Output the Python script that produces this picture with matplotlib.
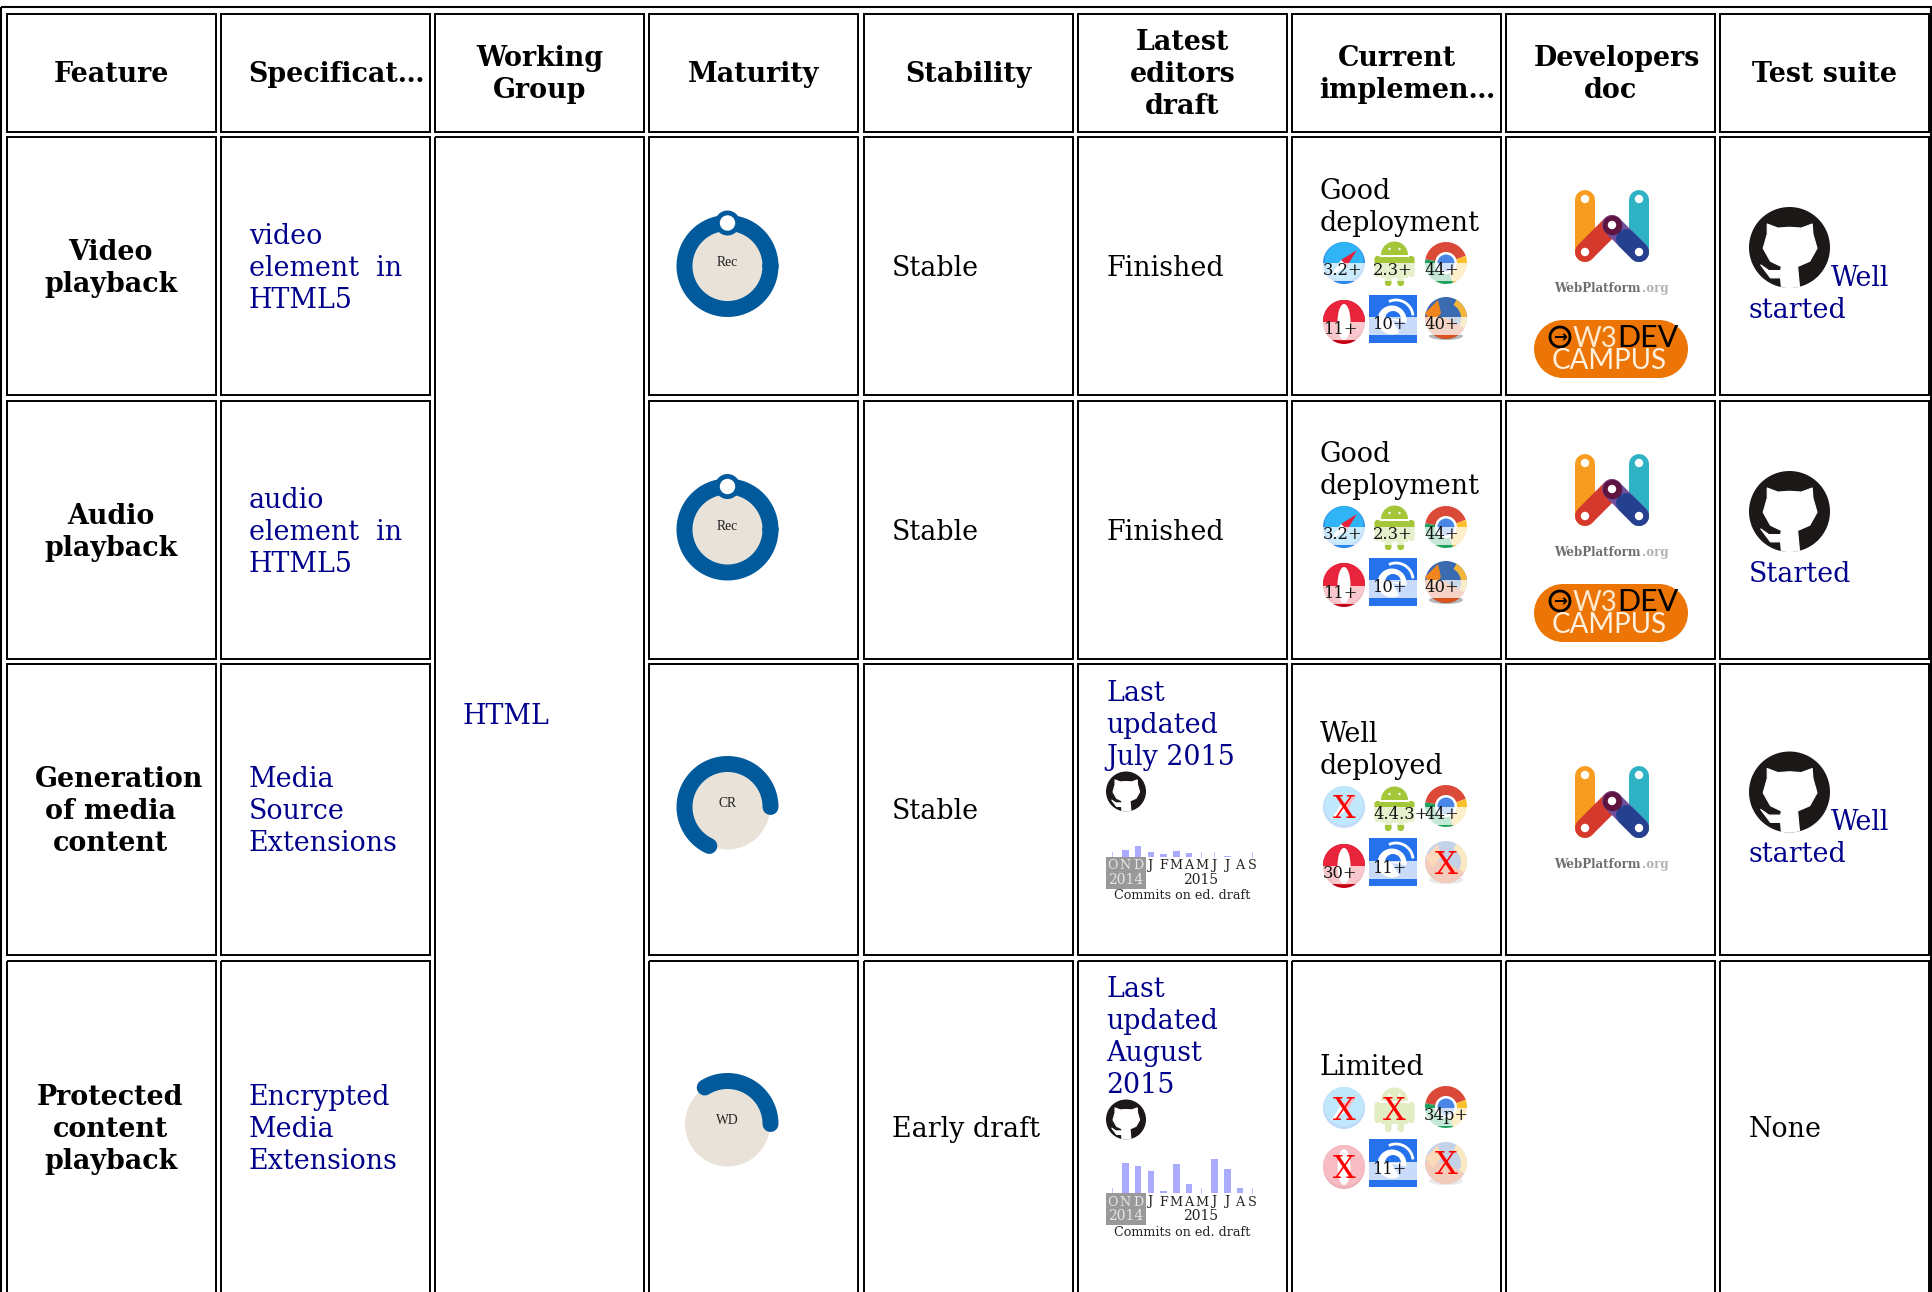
import numpy as np
import matplotlib
matplotlib.use('Agg')
import matplotlib.pyplot as plt
from matplotlib.patches import Rectangle, Circle, Ellipse, Wedge, Polygon, FancyBboxPatch

# Table content
headers = [['Feature'], ['Specificat…'], ['Working', 'Group'], ['Maturity'], ['Stability'],
           ['Latest', 'editors', 'draft'], ['Current', 'implemen…'], ['Developers', 'doc'], ['Test suite']]
features = [['Video', 'playback'], ['Audio', 'playback'], ['Generation', 'of media', 'content'],
            ['Protected', 'content', 'playback']]
specs = [['video', 'element  in', 'HTML5'], ['audio', 'element  in', 'HTML5'],
         ['Media', 'Source', 'Extensions'], ['Encrypted', 'Media', 'Extensions']]
group = 'HTML'
maturity = ['Rec', 'Rec', 'CR', 'WD']
maturity_arc = [360, 360, 245, 122]  # degrees of the progress ring
stability = ['Stable', 'Stable', 'Stable', 'Early draft']
drafts = ['Finished', 'Finished', ['Last', 'updated', 'July 2015'], ['Last', 'updated', 'August', '2015']]
deployment = [['Good', 'deployment'], ['Good', 'deployment'], ['Well', 'deployed'], ['Limited']]

# Browser support, None means not supported
browsers = ['safari', 'android', 'chrome', 'opera', 'ie', 'firefox']
support = [['3.2+', '2.3+', '44+', '11+', '10+', '40+'],
           ['3.2+', '2.3+', '44+', '11+', '10+', '40+'],
           [None, '4.4.3+', '44+', '30+', '11+', None],
           [None, None, '34p+', None, '11+', None]]

# Commits per month on the editors drafts (bar height in pixels)
months = ['O', 'N', 'D', 'J', 'F', 'M', 'A', 'M', 'J', 'J', 'A', 'S']
commits_mse = [0, 7, 11, 4.5, 2.5, 5.5, 4, 0, 0, 1, 0, 0]
commits_eme = [0, 30, 27, 22, 2.5, 29, 9, 0, 34, 24, 5, 0]

# Layout in picture pixels
col_left = [6.5, 221, 435, 649, 864, 1078, 1292, 1506, 1720]
col_w = 209
row_top = [137, 401, 664, 961]
row_bottom = [395, 659, 955, 1330]
row_center = [266, 529.5, 809, 1127]
icon_x = [1344, 1394.5, 1446, 1344, 1393, 1446]
# lines that overflow their cell, so they start at the cell padding
left_lines = {'Specificat…': 248, 'implemen…': 1319.5, 'Generation': 34.5, 'Developers': 1534}
LINE = 32
FS = 19.35
BLUE = '#00008B'
SERIF = 'DejaVu Serif'

plt.rcParams['font.family'] = SERIF

fig = plt.figure(figsize=(19.32, 12.92), dpi=100)
ax = fig.add_axes([0, 0, 1, 1])
ax.set_xlim(0, 1932)
ax.set_ylim(1292, 0)
ax.axis('off')


def lines_at(lines, x, center, ha='left', **kw):
    # Multi-line text with browser-like line pitch, centred on a row
    if isinstance(lines, str):
        lines = [lines]
    for i, line in enumerate(lines):
        y = center + 10 + (i - (len(lines) - 1) / 2) * LINE
        if line in left_lines:
            ax.text(left_lines[line], y, line, ha='left', va='baseline', fontsize=FS, **kw)
        else:
            ax.text(x, y, line, ha=ha, va='baseline', fontsize=FS, **kw)


def box(x0, y0, x1, y1, lw=1.4):
    ax.add_patch(Rectangle((x0, y0), x1 - x0, y1 - y0, fc='none', ec='black', lw=lw))


def arc_points(cx, cy, r, a0, a1):
    t = np.radians(np.linspace(a0, a1, 120))
    return cx + r * np.cos(t), cy - r * np.sin(t)


def wedge(cx, cy, r, a0, a1, color, width=None):
    # y axis is inverted, so flip the angles to keep them counter-clockwise on screen
    return Wedge((cx, cy), r, -a1, -a0, fc=color, ec='none', width=width)


def draw_ring(cx, cy, label, arc):
    ax.add_patch(Circle((cx, cy), 42.5, fc='#E8E2D8', ec='none'))
    px, py = arc_points(cx, cy, 43, 0, arc)
    ax.plot(px, py, color='#005A9C', lw=11.5, solid_capstyle='round')
    if arc == 360:
        ax.add_patch(Circle((cx, cy - 43), 12.5, fc='#005A9C', ec='none', zorder=3))
        ax.add_patch(Circle((cx, cy - 43), 7.7, fc='white', ec='none', zorder=4))
    ax.text(cx, cy, label, ha='center', va='baseline', fontsize=9.8, family='Liberation Serif', color='#222222')


def draw_github(cx, cy, r):
    c = Circle((cx, cy), r, fc='#1B1817', ec='none')
    ax.add_patch(c)
    cat = [(-.55, -.58), (-.29, -.48), (0, -.5), (.29, -.48), (.56, -.58), (.58, -.33), (.68, .02), (.5, .34),
           (.2, .47), (.25, 1.0), (-.2, 1.0), (-.22, .75), (-.47, .75), (-.71, .43), (-.51, .57), (-.22, .57),
           (-.2, .47), (-.47, .34), (-.65, .02), (-.55, -.33)]
    p = Polygon([(cx + a * r, cy + b * r) for a, b in cat], fc='white', ec='white', lw=0.8, joinstyle='round')
    ax.add_patch(p)
    p.set_clip_path(c)


def draw_webplatform(dy):
    xl, xm, xr = 1585, 1612, 1639
    yt, ym, yb = 200 + dy, 225 + dy, 252 + dy
    w = 14.4
    def seg(x0, y0, x1, y1, color, width=w):
        ax.plot([x0, x1], [y0, y1], color=color, lw=width, solid_capstyle='round')
    seg(xl, yt, xl, yb, '#F89C20')
    seg(xr, yt, xr, yb, '#2FB2C4')
    seg(xl, yb, xm, ym, '#D5392B')
    seg(xr, yb, xm, ym, '#6E4FA0')
    seg(xr, yb, 1626, 239 + dy, '#24408E')
    ax.plot([xm], [ym], 'o', ms=14, color='#5F1340', mew=0)
    for x, y in [(xl, yt - 1), (xr, yt - 1), (xm, ym), (xl, yb), (xr, yb)]:
        ax.add_patch(Circle((x, y), 4.2, fc='white', ec='none', zorder=3))
    ax.text(1554, 292 + dy, 'WebPlatform', fontsize=8.6, fontweight='bold', color='#6E6E6E', va='baseline')
    ax.text(1642, 292 + dy, '.org', fontsize=8.6, fontweight='bold', color='#B0B0B0', va='baseline')


def draw_campus(dy):
    ax.add_patch(Rectangle((1563, 320 + dy), 96, 58, fc='#EC7505', ec='none'))
    ax.add_patch(Circle((1563, 349 + dy), 29, fc='#EC7505', ec='none'))
    ax.add_patch(Circle((1659, 349 + dy), 29, fc='#EC7505', ec='none'))
    ax.add_patch(Circle((1560, 337 + dy), 10, fc='none', ec='black', lw=2))
    ax.text(1560, 337.5 + dy, '\u2192', ha='center', va='center', fontsize=12, family='DejaVu Sans', fontweight='bold')
    ax.text(1573, 347 + dy, 'W3', fontsize=20, family='Lato', color='#FFE9D0', va='baseline')
    ax.text(1617, 347 + dy, 'DEV', fontsize=22, family='Lato', color='black', va='baseline')
    ax.text(1552, 369 + dy, 'CAMPUS', fontsize=20, family='Lato', color='#FFF1E0', va='baseline')


def draw_icon(name, cx, cy):
    # Browser logos as plain shapes
    add = ax.add_patch
    if name == 'safari':
        add(Circle((cx, cy), 21, fc='#2F86EA', ec='none'))
        add(Circle((cx, cy - 1.5), 19.5, fc='#2FB4F5', ec='none'))
        add(Polygon([(cx + 13, cy - 13), (cx - 3, cy - 3), (cx + 3, cy + 3)], fc='#E8203A', ec='none'))
        add(Polygon([(cx - 13, cy + 13), (cx - 3, cy - 3), (cx + 3, cy + 3)], fc='white', ec='none'))
    elif name == 'android':
        g = '#A4C639'
        add(wedge(cx, cy - 8, 13.5, 0, 180, g))
        add(Rectangle((cx - 13.5, cy - 6), 27, 21, fc=g, ec='none'))
        for dx in (-18, 15.5):
            add(FancyBboxPatch((cx + dx, cy - 5), 2.5, 17, boxstyle='round,pad=0,rounding_size=1.2', fc=g, ec=g, lw=3))
        for dx in (-7.5, 5):
            add(FancyBboxPatch((cx + dx, cy + 15), 2.5, 6, boxstyle='round,pad=0,rounding_size=1.2', fc=g, ec=g, lw=3))
        for dx in (-5, 5):
            add(Circle((cx + dx, cy - 14), 1.2, fc='white', ec='none'))
    elif name == 'chrome':
        add(wedge(cx, cy, 21, 20, 170, '#DB4A39'))
        add(wedge(cx, cy, 21, 170, 290, '#1DA15C'))
        add(wedge(cx, cy, 21, 290, 380, '#FBC02D'))
        add(Circle((cx, cy), 11, fc='white', ec='none'))
        add(Circle((cx, cy), 8.5, fc='#4A86E8', ec='none'))
    elif name == 'opera':
        add(Ellipse((cx, cy), 42, 44, fc='#C20016', ec='none'))
        add(Ellipse((cx, cy - 1.5), 42, 41, fc='#E8253C', ec='none'))
        add(Ellipse((cx, cy), 13, 36, fc='white', ec='none'))
    elif name == 'ie':
        add(Rectangle((cx - 24, cy - 25), 48, 48, fc='#2672EC', ec='none'))
        add(Circle((cx - 1, cy), 14.5, fc='white', ec='none'))
        add(wedge(cx, cy - 1, 8, 0, 180, '#2672EC'))
        add(wedge(cx - 1, cy, 15, 300, 350, '#2672EC'))
        px, py = arc_points(cx + 3, cy - 3, 17, 10, 110)
        ax.plot(px, py, color='white', lw=2)
    elif name == 'firefox':
        add(Ellipse((cx, cy + 18), 34, 8, fc='#B8B8B8', ec='none'))
        add(Circle((cx, cy), 21, fc='#3A6BB0', ec='none'))
        add(wedge(cx, cy, 21, 175, 330, '#D9531E'))
        add(wedge(cx, cy, 21, 330, 420, '#F4B63A', width=6))
        add(Polygon([(cx - 21, cy - 5), (cx - 8, cy - 18), (cx - 5, cy - 5), (cx - 13, cy + 5)], fc='#F0851E', ec='none'))


# Outer table border and cell borders
box(1, 7, 1931, 1330, lw=1.5)
for c, x in enumerate(col_left):
    box(x, 14, x + col_w, 132)
    if c == 2:
        box(x, row_top[0], x + col_w, row_bottom[3])
        continue
    for top, bottom in zip(row_top, row_bottom):
        box(x, top, x + col_w, bottom)

# Header row
for c, head in enumerate(headers):
    lines_at(head, col_left[c] + col_w / 2, 72, ha='center', fontweight='bold')

# Column contents
lines_at(group, col_left[2] + 28, 714.5, color=BLUE)
for r, center in enumerate(row_center):
    lines_at(features[r], 110.5, center, ha='center', fontweight='bold')
    lines_at(specs[r], col_left[1] + 28, center, color=BLUE)
    draw_ring(727.5, center if r < 2 else [807, 1124][r - 2], maturity[r], maturity_arc[r])
    lines_at(stability[r], col_left[4] + 28, center)

lines_at(drafts[0], 1106, row_center[0])
lines_at(drafts[1], 1106, row_center[1])

# Drafts with a commit sparkline
for lines, first, gh_y, base, vals in [(drafts[2], 700.7, 791.5, 856.7, commits_mse),
                                       (drafts[3], 996.7, 1119.5, 1193.2, commits_eme)]:
    for i, line in enumerate(lines):
        ax.text(1106, first + i * LINE, line, fontsize=FS, color=BLUE, va='baseline')
    draw_github(1126, gh_y, 20)
    xs = 1112.7 + np.arange(len(months)) * 12.73
    for x, v in zip(xs, vals):
        if v == 0:
            ax.bar(x, -6, bottom=base + 1, width=0.9, color='#C4C4FF', linewidth=0)
        else:
            ax.bar(x, -v, bottom=base, width=6.5, color='#AAAAFF', linewidth=0)
    ax.add_patch(Rectangle((1106, base), 40, 32, fc='#999999', ec='none'))
    for i, (x, m) in enumerate(zip(xs, months)):
        ax.text(x, base + 12.3, m, ha='center', va='baseline', fontsize=9.2, color='#E6E6E6' if i < 3 else '#222222')
    ax.text(1125.5, base + 27.3, '2014', ha='center', va='baseline', fontsize=10, color='#E6E6E6')
    ax.text(1201, base + 27.3, '2015', ha='center', va='baseline', fontsize=10, color='#222222')
    ax.text(1182, base + 42.3, 'Commits on ed. draft', ha='center', va='baseline', fontsize=9.2, color='#222222')

# Implementation column
text_y = [[199, 231], [462, 494], [741.7, 774], [1075]]
icon_y = [[263, 263, 263, 322, 320, 318],
          [527, 527, 527, 585, 583, 582],
          [807, 808, 806, 866, 863, 862],
          [1108, 1109, 1107, 1167, 1164, 1163]]
label_base = [[275, 275, 275, 334, 329, 329],
              [539, 539, 539, 598, 592, 592],
              [819, 819, 819, 878, 873, 873],
              [0, 0, 1120, 0, 1174, 0]]
label_left = [1323, 1373, 1424, 1323, 1372, 1424]
for r in range(4):
    for line, y in zip(deployment[r], text_y[r]):
        ax.text(1319.5, y, line, fontsize=FS, va='baseline')
    for b, name in enumerate(browsers):
        ver = support[r][b]
        cx, cy = icon_x[b], icon_y[r][b]
        draw_icon(name, cx, cy)
        if ver:
            yb = label_base[r][b]
            hw = 24 if name == 'ie' else 21
            ax.add_patch(Rectangle((cx - hw, yb - 12), 2 * hw, 18, fc='white', ec='none', alpha=0.75))
            ax.text(label_left[b], yb, ver, fontsize=11.8, va='baseline', color='#111111')
        else:
            # faded icon with a red cross
            ax.add_patch(Rectangle((cx - 23, cy - 24), 46, 48, fc='white', ec='none', alpha=0.7))
            ax.text(cx, cy + 11.5, 'X', fontsize=23, color='red', ha='center', va='baseline')

# Developers doc column
for dy in (0, 264, 576):
    draw_webplatform(dy)
for dy in (0, 264):
    draw_campus(dy)

# Test suite column
draw_github(1789.5, 247.5, 40.5)
ax.text(1831, 286, 'Well', fontsize=FS, color=BLUE, va='baseline')
ax.text(1749, 318, 'started', fontsize=FS, color=BLUE, va='baseline')
draw_github(1789.5, 511.5, 40.5)
ax.text(1749, 582, 'Started', fontsize=FS, color=BLUE, va='baseline')
draw_github(1789.5, 792, 40.5)
ax.text(1831, 830, 'Well', fontsize=FS, color=BLUE, va='baseline')
ax.text(1749, 862, 'started', fontsize=FS, color=BLUE, va='baseline')
ax.text(1749, 1137, 'None', fontsize=FS, va='baseline')

fig.savefig('out.png', dpi=100, facecolor='white')
